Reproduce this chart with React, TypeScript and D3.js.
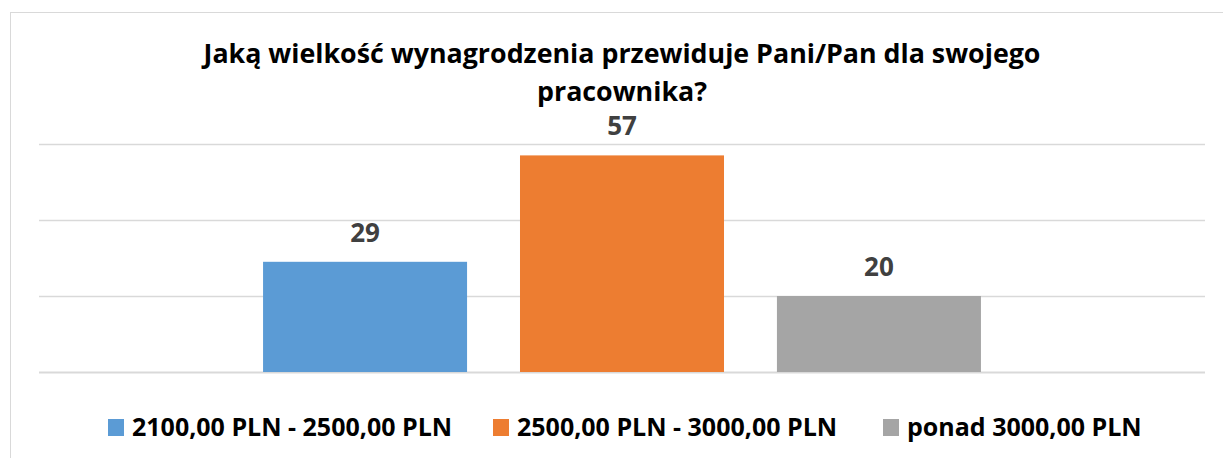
import React, { useEffect, useRef } from 'react';
import * as d3 from 'd3';

const titleLines = ['Jaką wielkość wynagrodzenia przewiduje Pani/Pan dla swojego', 'pracownika?'];
const seriesNames = ['2100,00 PLN - 2500,00 PLN', '2500,00 PLN - 3000,00 PLN', 'ponad 3000,00 PLN'];
const seriesValues = [29, 57, 20];
const seriesColors = ['#5B9BD5', '#ED7D31', '#A5A5A5'];
const yTicks = [0, 20, 40, 60];

const W = 1223;
const H = 458;
const FONT = "'Open Sans', 'Liberation Sans', sans-serif";

const App = () => {
  const ref = useRef<SVGSVGElement | null>(null);

  useEffect(() => {
    if (!ref.current) return;
    const svg = d3.select(ref.current);
    svg.selectAll('*').remove();

    // chart frame (runs off the right and bottom edge)
    svg.append('rect')
      .attr('x', 10.5).attr('y', 12.5)
      .attr('width', W + 20).attr('height', H + 20)
      .attr('fill', 'white').attr('stroke', '#D9D9D9').attr('stroke-width', 1);

    const left = 39, right = 1205, top = 144, bottom = 372;

    const y = d3.scaleLinear().domain([0, 60]).range([bottom, top]);
    const x = d3.scaleBand<string>()
      .domain(seriesNames)
      .range([left, right])
      .paddingInner(0.206)
      .paddingOuter(0.872);

    // gridlines
    svg.append('g')
      .selectAll('line')
      .data(yTicks)
      .join('line')
      .attr('x1', left).attr('x2', right)
      .attr('y1', d => Math.round(y(d)) + 0.5)
      .attr('y2', d => Math.round(y(d)) + 0.5)
      .attr('stroke', '#D9D9D9')
      .attr('stroke-width', d => (d === 0 ? 2 : 1.5));

    // bars
    svg.append('g')
      .selectAll('rect')
      .data(seriesNames)
      .join('rect')
      .attr('x', d => x(d)!)
      .attr('y', (d, i) => y(seriesValues[i]))
      .attr('width', x.bandwidth())
      .attr('height', (d, i) => bottom - y(seriesValues[i]))
      .attr('fill', (d, i) => seriesColors[i]);

    // value labels
    svg.append('g')
      .selectAll('text')
      .data(seriesNames)
      .join('text')
      .attr('x', d => x(d)! + x.bandwidth() / 2)
      .attr('y', (d, i) => y(seriesValues[i]) - 20)
      .attr('text-anchor', 'middle')
      .style('font-family', FONT)
      .style('font-weight', 700)
      .style('font-size', '26px')
      .attr('fill', '#404040')
      .text((d, i) => seriesValues[i]);

    // title
    svg.append('g')
      .selectAll('text')
      .data(titleLines)
      .join('text')
      .attr('x', 622)
      .attr('y', (d, i) => 63 + i * 38)
      .attr('text-anchor', 'middle')
      .style('font-family', FONT)
      .style('font-weight', 700)
      .style('font-size', '26.8px')
      .attr('fill', '#000')
      .text(d => d);

    // legend
    const legendX = [108, 493, 883];
    const lg = svg.append('g');
    seriesNames.forEach((name, i) => {
      lg.append('rect')
        .attr('x', legendX[i]).attr('y', 419)
        .attr('width', 16).attr('height', 17)
        .attr('fill', seriesColors[i]);
      lg.append('text')
        .attr('x', legendX[i] + 24)
        .attr('y', 436)
        .style('font-family', FONT)
        .style('font-weight', 700)
        .style('font-size', '25px')
        .attr('fill', '#000')
        .text(name);
    });
  }, []);

  return (
    <svg
      ref={ref}
      width={W}
      height={H}
      style={{ position: 'absolute', left: 0, top: 0, display: 'block', background: '#fff' }}
    />
  );
};

export default App;
